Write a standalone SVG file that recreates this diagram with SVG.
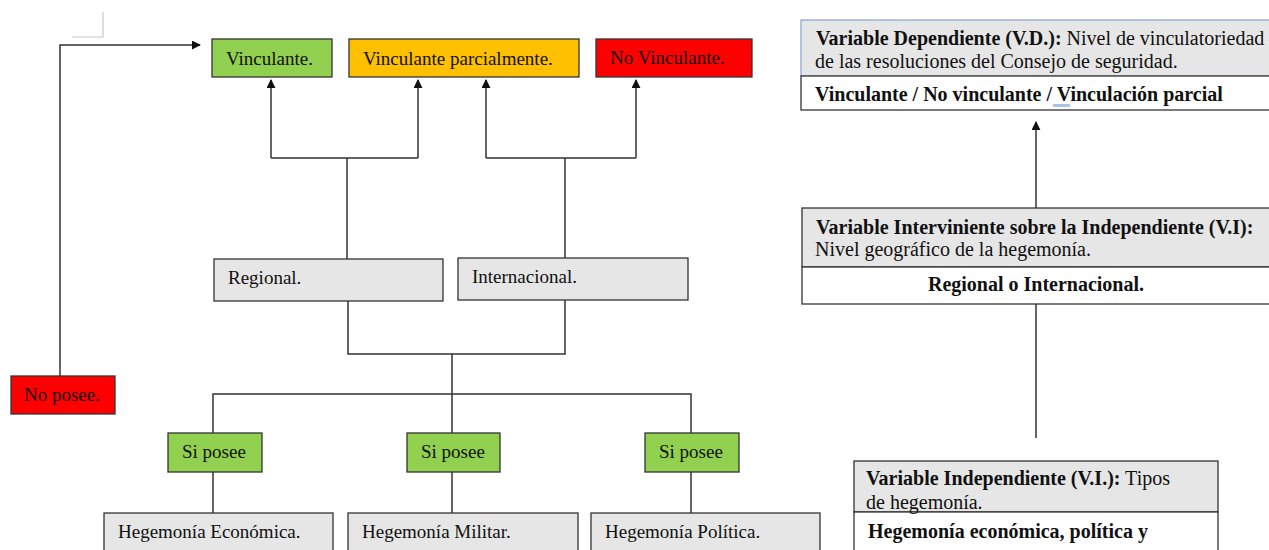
<svg xmlns="http://www.w3.org/2000/svg" width="1269" height="550" viewBox="0 0 1269 550">
<style>
text{font-family:"Liberation Serif","DejaVu Serif",serif;font-size:19px;fill:#111}
.rt{font-size:20px}
.b{font-weight:bold}
.box{stroke:#333;stroke-width:1.3}
.g{fill:#92d050}
.o{fill:#ffc000}
.r{fill:#ff0000}
.l{fill:#e6e6e6}
.w{fill:#fff}
.c{fill:none;stroke:#333;stroke-width:1.5}
</style>
<defs>
<marker id="ah" viewBox="0 0 10 10" refX="9" refY="5" markerWidth="9" markerHeight="9" markerUnits="userSpaceOnUse" orient="auto">
<path d="M0,0 L10,5 L0,10 z" fill="#111"/>
</marker>
</defs>
<rect width="1269" height="550" fill="#fff"/>
<path d="M72,37 H103 V12" fill="none" stroke="#c8c8c8" stroke-width="1.2"/>
<g id="connectors">
<path class="c" d="M60,376 V45 H200" marker-end="url(#ah)"/>
<path class="c" d="M347,259 V158 M271,158 H418"/>
<path class="c" d="M271,158 V80" marker-end="url(#ah)"/>
<path class="c" d="M418,158 V80" marker-end="url(#ah)"/>
<path class="c" d="M565,258 V158 M486,158 H636"/>
<path class="c" d="M486,158 V80" marker-end="url(#ah)"/>
<path class="c" d="M636,158 V80" marker-end="url(#ah)"/>
<path class="c" d="M348,301 V354 H565 V300 M452,354 V394 M213,433 V394 H691 V433 M452,394 V433"/>
<path class="c" d="M213,472 V513 M452,472 V513 M691,472 V513"/>
<path class="c" d="M1036,208 V122" marker-end="url(#ah)"/>
<path class="c" d="M1036,304 V438"/>
</g>
<g id="n-vinculante"><rect class="box g" x="212" y="39" width="120" height="38"/><text x="226" y="65">Vinculante.</text></g>
<g id="n-parcial"><rect class="box o" x="349" y="39" width="230" height="38"/><text x="363" y="65">Vinculante parcialmente.</text></g>
<g id="n-novinc"><rect class="box r" x="596" y="39" width="156" height="38"/><text x="610" y="64">No Vinculante.</text></g>
<g id="n-regional"><rect class="box l" x="214" y="259" width="229" height="42"/><text x="228" y="284">Regional.</text></g>
<g id="n-internacional"><rect class="box l" x="458" y="258" width="230" height="42"/><text x="472" y="283">Internacional.</text></g>
<g id="n-noposee"><rect class="box r" x="11" y="376" width="104" height="38"/><text x="24" y="401">No posee.</text></g>
<g id="n-si1"><rect class="box g" x="168" y="433" width="94" height="39"/><text x="182" y="458">Si posee</text></g>
<g id="n-si2"><rect class="box g" x="407" y="433" width="93" height="39"/><text x="421" y="458">Si posee</text></g>
<g id="n-si3"><rect class="box g" x="645" y="433" width="94" height="39"/><text x="659" y="458">Si posee</text></g>
<g id="n-heco"><rect class="box l" x="104" y="513" width="229" height="45"/><text x="118" y="538">Hegemonía Económica.</text></g>
<g id="n-hmil"><rect class="box l" x="348" y="513" width="230" height="45"/><text x="362" y="538">Hegemonía Militar.</text></g>
<g id="n-hpol"><rect class="box l" x="591" y="513" width="229" height="45"/><text x="605" y="538">Hegemonía Política.</text></g>
<g id="n-vd" class="rt">
<rect x="801" y="20" width="475" height="56" fill="#e6e6e6" stroke="#8fa8d0" stroke-width="1.3"/>
<rect class="box w" x="801" y="76" width="475" height="34"/>
<text class="rt" x="816" y="45"><tspan class="b">Variable Dependiente (V.D.):</tspan> Nivel de vinculatoriedad</text>
<text class="rt" x="815" y="68">de las resoluciones del Consejo de seguridad.</text>
<text class="rt b" x="815" y="101">Vinculante / No vinculante / Vinculación parcial</text>
<rect x="1053" y="104" width="17" height="3" fill="#a8c4ea"/>
</g>
<g id="n-vint">
<rect class="box l" x="802" y="208" width="474" height="59"/>
<rect class="box w" x="802" y="267" width="474" height="37"/>
<text class="rt b" x="816" y="234">Variable Interviniente sobre la Independiente (V.I):</text>
<text class="rt" x="815" y="256">Nivel geográfico de la hegemonía.</text>
<text class="rt b" x="1036" y="291" text-anchor="middle">Regional o Internacional.</text>
</g>
<g id="n-vi">
<rect class="box l" x="854" y="461" width="364" height="51"/>
<rect class="box w" x="854" y="512" width="364" height="45"/>
<text class="rt" x="866" y="485"><tspan class="b">Variable Independiente (V.I.):</tspan> Tipos</text>
<text class="rt" x="866" y="509">de hegemonía.</text>
<text class="rt b" x="868" y="538">Hegemonía económica, política y</text>
</g>
</svg>
